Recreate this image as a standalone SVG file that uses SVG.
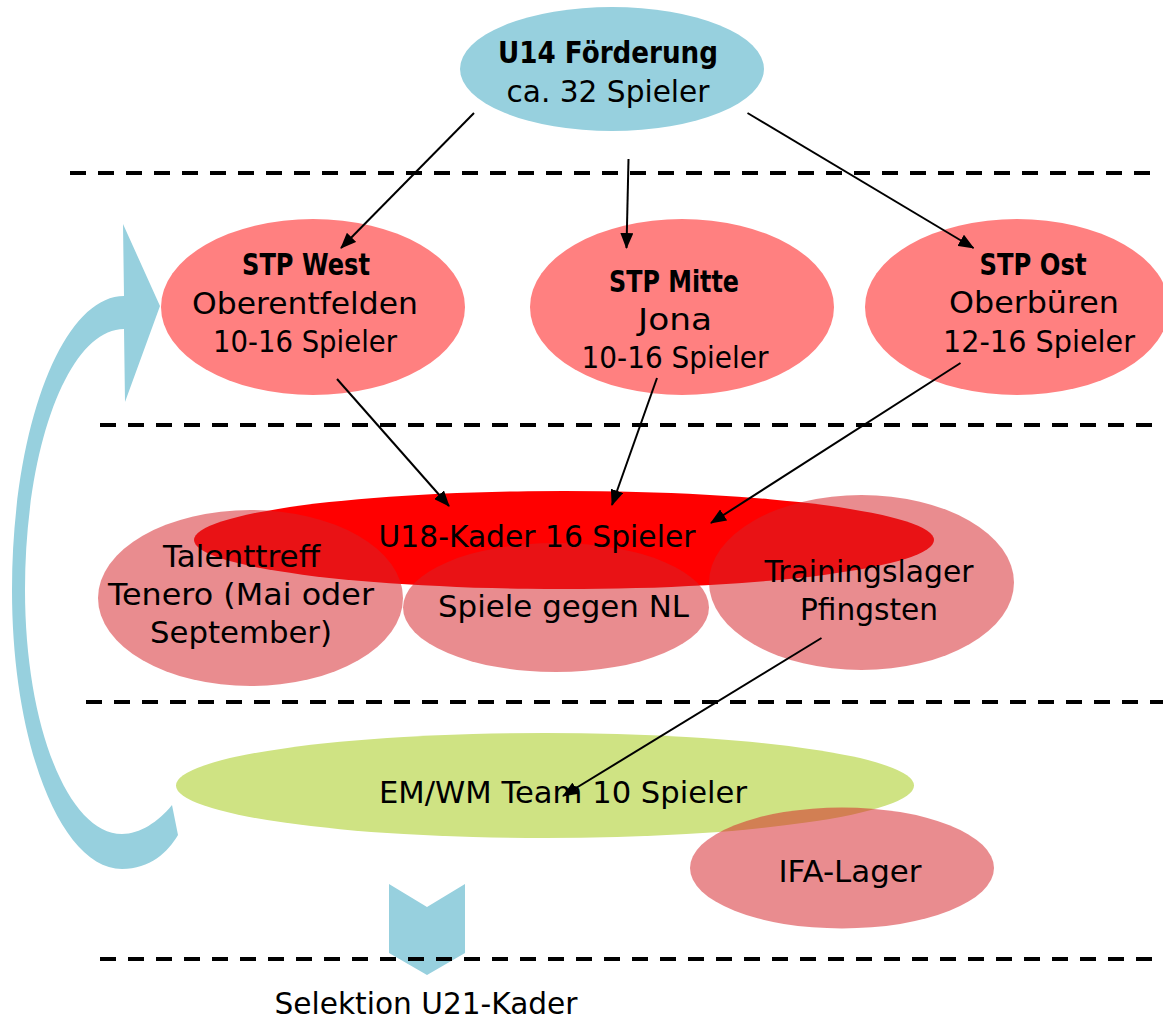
<svg xmlns="http://www.w3.org/2000/svg" width="1163" height="1023" viewBox="0 0 1163 1023">
<style>
text{font-family:"DejaVu Sans","Liberation Sans",sans-serif;font-size:30px;fill:#000;text-anchor:middle}
.b{font-weight:bold}
.blue{fill:#97D0DE}
.stp{fill:#FF8080}
.pink{fill:#D42328;fill-opacity:0.52}
.dash{stroke:#000;stroke-width:4;stroke-dasharray:16 12;fill:none}
.conn{stroke:#000;stroke-width:2;fill:none;marker-end:url(#ah)}
</style>
<defs>
<marker id="ah" markerUnits="userSpaceOnUse" markerWidth="16" markerHeight="13" refX="15" refY="6.5" orient="auto">
<path d="M0,0 L16,6.5 L0,13 Z" fill="#000"/>
</marker>
</defs>
<rect width="1163" height="1023" fill="#fff"/>

<g id="cycle-arrow">
<path class="blue" d="M124,296 L123,224 L160,306 L125,402 L124,329 C69,329 25,446 25,590 C25,725 68,834 122,834 C140,834 158,822 172,805 L178,835 C168,852 150,869 122,869 C61,869 12,744 12,590 C12,428 62,296 124,296 Z"/>
</g>
<g id="selection-chevron">
<path class="blue" d="M389,884 L427,907 L465,884 L465,953 L427,975 L389,953 Z"/>
</g>

<g id="separators">
<line class="dash" x1="70" y1="173" x2="1152" y2="173"/>
<line class="dash" x1="100" y1="425" x2="1152" y2="425"/>
<line class="dash" x1="86" y1="702" x2="1163" y2="702"/>
<line class="dash" x1="100" y1="959" x2="1160" y2="959"/>
</g>

<g id="u14">
<ellipse class="blue" cx="612" cy="69" rx="152" ry="62"/>
<text class="b" x="608" y="63" textLength="220" lengthAdjust="spacingAndGlyphs">U14 Förderung</text>
<text x="608" y="102" textLength="203" lengthAdjust="spacingAndGlyphs">ca. 32 Spieler</text>
</g>

<g id="stp-west">
<ellipse class="stp" cx="313" cy="307" rx="152" ry="88"/>
<text class="b" x="306" y="275" textLength="128" lengthAdjust="spacingAndGlyphs">STP West</text>
<text x="305" y="314" textLength="226" lengthAdjust="spacingAndGlyphs">Oberentfelden</text>
<text x="305" y="352" textLength="184" lengthAdjust="spacingAndGlyphs">10-16 Spieler</text>
</g>

<g id="stp-mitte">
<ellipse class="stp" cx="682" cy="307" rx="152" ry="88"/>
<text class="b" x="674" y="292" textLength="130" lengthAdjust="spacingAndGlyphs">STP Mitte</text>
<text x="675" y="330" textLength="74" lengthAdjust="spacingAndGlyphs">Jona</text>
<text x="675" y="368" textLength="187" lengthAdjust="spacingAndGlyphs">10-16 Spieler</text>
</g>

<g id="stp-ost">
<ellipse class="stp" cx="1017" cy="307" rx="152" ry="88"/>
<text class="b" x="1033" y="275" textLength="107" lengthAdjust="spacingAndGlyphs">STP Ost</text>
<text x="1034" y="313" textLength="170" lengthAdjust="spacingAndGlyphs">Oberbüren</text>
<text x="1039" y="352" textLength="192" lengthAdjust="spacingAndGlyphs">12-16 Spieler</text>
</g>

<g id="u18">
<ellipse cx="564" cy="540" rx="370" ry="49" fill="#FF0000"/>
</g>

<g id="talenttreff">
<ellipse class="pink" cx="250.5" cy="598" rx="152.5" ry="88"/>
<text x="241.5" y="567" textLength="157" lengthAdjust="spacingAndGlyphs">Talenttreff</text>
<text x="241" y="605" textLength="266" lengthAdjust="spacingAndGlyphs">Tenero (Mai oder</text>
<text x="241" y="643" textLength="182" lengthAdjust="spacingAndGlyphs">September)</text>
</g>

<g id="spiele-nl">
<ellipse class="pink" cx="556" cy="607.5" rx="153" ry="64.5"/>
<text x="563.5" y="617" textLength="251" lengthAdjust="spacingAndGlyphs">Spiele gegen NL</text>
</g>

<g id="trainingslager">
<ellipse class="pink" cx="861.5" cy="582.5" rx="152.5" ry="87.5"/>
<text x="869" y="582" textLength="209" lengthAdjust="spacingAndGlyphs">Trainingslager</text>
<text x="869" y="620" textLength="138" lengthAdjust="spacingAndGlyphs">Pfingsten</text>
</g>

<g id="u18-label">
<text x="537" y="547" textLength="317" lengthAdjust="spacingAndGlyphs">U18-Kader 16 Spieler</text>
</g>

<g id="em-wm">
<ellipse cx="545" cy="785.5" rx="369" ry="52.5" fill="#CFE383"/>
<text x="563" y="803" textLength="368" lengthAdjust="spacingAndGlyphs">EM/WM Team 10 Spieler</text>
</g>

<g id="ifa">
<ellipse class="pink" cx="842" cy="868" rx="152" ry="60.5"/>
<text x="850" y="882" textLength="143" lengthAdjust="spacingAndGlyphs">IFA-Lager</text>
</g>

<g id="selektion">
<text x="426" y="1014" textLength="303" lengthAdjust="spacingAndGlyphs">Selektion U21-Kader</text>
</g>

<g id="connectors">
<line class="conn" x1="474" y1="113" x2="341" y2="248"/>
<line class="conn" x1="628.5" y1="159" x2="626.5" y2="248"/>
<line class="conn" x1="747.5" y1="113" x2="973.5" y2="248"/>
<line class="conn" x1="337" y1="379" x2="449" y2="506"/>
<line class="conn" x1="657" y1="378" x2="612" y2="505"/>
<line class="conn" x1="960.5" y1="363" x2="711" y2="523"/>
<line class="conn" x1="821.5" y1="638" x2="563" y2="796"/>
</g>
</svg>
